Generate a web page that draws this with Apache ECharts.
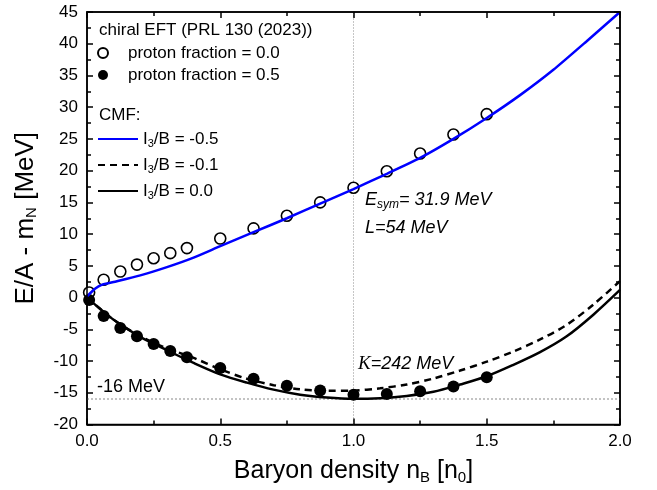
<!DOCTYPE html>
<html>
<head>
<meta charset="utf-8">
<script src="https://cdn.jsdelivr.net/npm/echarts@6/dist/echarts.min.js"></script>
<style>
html,body{margin:0;padding:0;background:#fff;}
#chart{width:657px;height:490px;}
</style>
</head>
<body>
<div id="chart"></div>
<script>
// ---- data ----
const eftX = [0.008, 0.0625, 0.125, 0.1875, 0.25, 0.3125, 0.375, 0.5, 0.625, 0.75, 0.875, 1.0, 1.125, 1.25, 1.375, 1.5];
const eftPN = [0.8, 2.8, 4.1, 5.2, 6.2, 7.0, 7.8, 9.3, 10.9, 12.9, 15.0, 17.3, 19.9, 22.7, 25.7, 28.9];
const eftSNM = [-0.4, -2.9, -4.8, -6.1, -7.3, -8.4, -9.4, -11.1, -12.8, -13.9, -14.65, -15.3, -15.2, -14.75, -14.0, -12.55];

const cmfBlueX = [0, 0.01, 0.03, 0.055, 0.1, 0.2, 0.3, 0.4, 0.5, 0.625, 0.75, 0.875, 1.0, 1.125, 1.25, 1.375, 1.5, 1.625, 1.75, 1.875, 2.0];
const cmfBlueY = [0.2, 0.6, 1.4, 2.0, 2.45, 3.5, 4.8, 6.3, 8.1, 10.3, 12.5, 14.8, 17.1, 19.5, 22.0, 25.0, 28.3, 31.9, 35.9, 40.4, 45.0];

const cmfX = [0, 0.05, 0.1, 0.2, 0.3, 0.4, 0.5, 0.6, 0.7, 0.8, 0.9, 1.0, 1.1, 1.2, 1.3, 1.4, 1.5, 1.6, 1.7, 1.8, 1.9, 2.0];
const cmfDashY = [0, -1.8, -3.5, -6.1, -8.0, -9.5, -11.3, -12.8, -13.8, -14.45, -14.7, -14.65, -14.3, -13.7, -12.75, -11.5, -10.1, -8.5, -6.6, -4.3, -1.1, 2.6];
const cmfSolidY = [0, -1.8, -3.5, -6.2, -8.3, -10.3, -12.1, -13.4, -14.5, -15.3, -15.75, -15.95, -15.85, -15.5, -14.85, -13.7, -12.4, -10.6, -8.6, -6.1, -2.7, 1.2];

const xTicks = {min: 0, max: 2, interval: 0.5};
const yTicks = {min: -20, max: 45, interval: 5};
const refDensity = 1.0;
const refEnergy = -16;

const names = {
  pn: 'proton fraction = 0.0',
  snm: 'proton fraction = 0.5',
  b: 'I3/B = -0.5',
  d: 'I3/B = -0.1',
  s: 'I3/B = 0.0'
};

const zip = (xs, ys) => xs.map((x, i) => [x, ys[i]]);

const FONT = 'Liberation Sans, Arial, sans-serif';
const chart = echarts.init(document.getElementById('chart'));

const ac = () => ({
  z: 10,
  axisLine: {show: true, onZero: false, lineStyle: {color: '#000', width: 1.5}},
  axisTick: {show: true, inside: true, length: 6, lineStyle: {color: '#000', width: 1.5}},
  minorTick: {show: true, splitNumber: 2, length: 4, lineStyle: {color: '#000', width: 1.5}},
  splitLine: {show: false},
  minorSplitLine: {show: false}
});

const option = {
  backgroundColor: '#fff',
  animation: false,
  grid: {left: 87, right: 37, top: 12, bottom: 64, containLabel: false,
         show: true, borderColor: '#000', borderWidth: 1.5, backgroundColor: 'transparent'},
  xAxis: [
    Object.assign({
      type: 'value', min: xTicks.min, max: xTicks.max, interval: xTicks.interval,
      axisLabel: {show: true, color: '#000', fontSize: 17, fontFamily: FONT, margin: 8, formatter: v => v.toFixed(1)},
      name: '{a|Baryon density n}{s|B}{a| [n}{s|0}{a|]}',
      nameLocation: 'middle', nameGap: 32,
      nameTextStyle: {
        rich: {
          a: {fontSize: 25, fontFamily: FONT, color: '#000', lineHeight: 30},
          s: {fontSize: 15, fontFamily: FONT, color: '#000', lineHeight: 30, padding: [12, 0, 0, 0]}
        }
      }
    }, ac()),
    Object.assign({
      type: 'value', position: 'top', min: xTicks.min, max: xTicks.max, interval: xTicks.interval,
      axisLabel: {show: false}
    }, ac())
  ],
  yAxis: [
    Object.assign({
      type: 'value', min: yTicks.min, max: yTicks.max, interval: yTicks.interval,
      axisLabel: {show: true, color: '#000', fontSize: 17, fontFamily: FONT, margin: 9},
      name: '{a|E/A - m}{s|N}{a| [MeV]}',
      nameLocation: 'middle', nameGap: 46,
      nameTextStyle: {
        rich: {
          a: {fontSize: 26, fontFamily: FONT, color: '#000', lineHeight: 30},
          s: {fontSize: 15, fontFamily: FONT, color: '#000', lineHeight: 30, padding: [12, 0, 0, 0]}
        }
      }
    }, ac()),
    Object.assign({
      type: 'value', position: 'right', min: yTicks.min, max: yTicks.max, interval: yTicks.interval,
      axisLabel: {show: false}
    }, ac())
  ],
  legend: [
    {
      data: [names.pn, names.snm],
      orient: 'vertical', left: 97, top: 43, padding: 0,
      itemWidth: 40, itemHeight: 10, itemGap: 2,
      textStyle: {fontSize: 17, fontFamily: FONT, color: '#000', lineHeight: 20},
      selectedMode: false
    },
    {
      data: [names.b, names.d, names.s],
      orient: 'vertical', left: 97, top: 129, padding: 0,
      itemWidth: 40, itemHeight: 14, itemGap: 6,
      itemStyle: {opacity: 0, color: 'transparent', borderWidth: 0},
      formatter: n => '{a|I}{s|3}{a|' + n.slice(2) + '}',
      textStyle: {
        fontSize: 17, fontFamily: FONT, color: '#000', lineHeight: 20,
        rich: {
          a: {fontSize: 17, fontFamily: FONT, color: '#000', lineHeight: 20},
          s: {fontSize: 11, fontFamily: FONT, color: '#000', lineHeight: 20, padding: [9, 0, 0, 0]}
        }
      },
      selectedMode: false
    }
  ],
  graphic: [
    {type: 'text', left: 99, top: 22, style: {text: 'chiral EFT (PRL 130 (2023))', font: '17px ' + FONT, fill: '#000'}},
    {type: 'text', left: 99, top: 107, style: {text: 'CMF:', font: '17px ' + FONT, fill: '#000'}},
    {type: 'text', left: 97, top: 378, style: {text: '-16 MeV', font: '18px ' + FONT, fill: '#000'}},
    {type: 'text', left: 365, top: 189, style: {
      text: '{i|E}{s|sym}{i|= 31.9 MeV}',
      rich: {
        i: {font: 'italic 18px ' + FONT, fill: '#000', lineHeight: 24},
        s: {font: 'italic 12px ' + FONT, fill: '#000', lineHeight: 24, padding: [10, 0, 0, 0]}
      }
    }},
    {type: 'text', left: 365, top: 219, style: {text: 'L=54 MeV', font: 'italic 18px ' + FONT, fill: '#000'}},
    {type: 'text', left: 358, top: 354, style: {
      text: '{k|K}{i|=242 MeV}',
      rich: {
        k: {font: 'italic 19px Liberation Serif, Times New Roman, serif', fill: '#000'},
        i: {font: 'italic 18px ' + FONT, fill: '#000'}
      }
    }}
  ],
  series: [
    {
      name: names.pn, type: 'scatter', data: zip(eftX, eftPN),
      symbol: 'circle', symbolSize: 11,
      itemStyle: {color: '#fff', borderColor: '#000', borderWidth: 1.6, opacity: 1},
      z: 2
    },
    {
      name: names.snm, type: 'scatter', data: zip(eftX, eftSNM),
      symbol: 'circle', symbolSize: 12,
      itemStyle: {color: '#000', borderColor: '#000', borderWidth: 0, opacity: 1},
      z: 2
    },
    {
      name: names.b, type: 'line', data: zip(cmfBlueX, cmfBlueY),
      showSymbol: false, symbol: 'none', smooth: 0.2,
      lineStyle: {color: '#0000ff', width: 2.5}, itemStyle: {color: '#0000ff'},
      z: 3
    },
    {
      name: names.d, type: 'line', data: zip(cmfX, cmfDashY),
      showSymbol: false, symbol: 'none', smooth: 0.3,
      lineStyle: {color: '#000', width: 2.5, type: [7, 5]}, itemStyle: {color: '#000'},
      z: 3
    },
    {
      name: names.s, type: 'line', data: zip(cmfX, cmfSolidY),
      showSymbol: false, symbol: 'none', smooth: 0.3,
      lineStyle: {color: '#000', width: 2.5}, itemStyle: {color: '#000'},
      markLine: {
        silent: true, symbol: 'none', label: {show: false}, z: 1,
        data: [
          {xAxis: refDensity, lineStyle: {color: '#8c8c8c', type: [1, 2], width: 1}},
          {yAxis: refEnergy, lineStyle: {color: '#b0b0b0', type: [2, 2], width: 1.5}}
        ]
      },
      z: 3
    }
  ]
};
chart.setOption(option);
</script>
</body>
</html>
